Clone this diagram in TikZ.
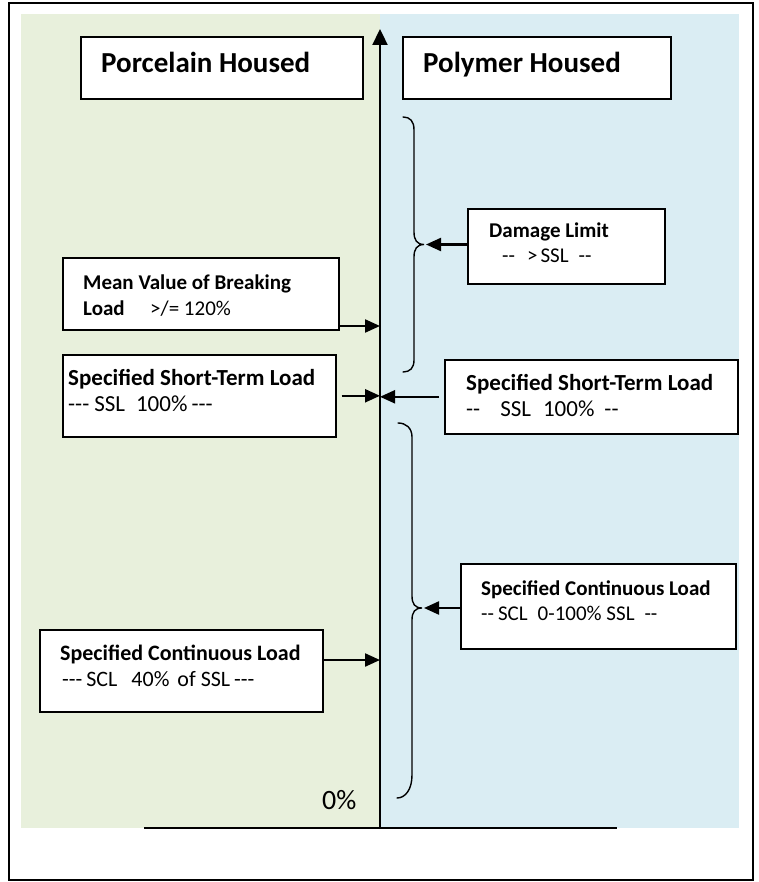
\documentclass[tikz,border=0pt]{standalone}
\usepackage{fontspec}
\newfontfamily\calib{Carlito}
\usetikzlibrary{arrows.meta,calc}
\definecolor{porcgreen}{RGB}{232,240,220}
\definecolor{polyblue}{RGB}{218,237,243}

\begin{document}
\begin{tikzpicture}[x=1pt,y=-1pt,
  box/.style={draw=black,line width=1.6pt,fill=white,inner sep=0pt,anchor=north west},
  titletext/.style={font=\calib\fontsize{29}{34}\selectfont\bfseries,anchor=base west,inner sep=0pt},
  boldtext/.style={font=\calib\fontsize{21}{26}\selectfont\bfseries,anchor=base west,inner sep=0pt},
  plaintext/.style={font=\calib\fontsize{21}{26}\selectfont,anchor=base west,inner sep=0pt},
  midbold/.style={font=\calib\fontsize{22}{27}\selectfont\bfseries,anchor=base west,inner sep=0pt},
  midplain/.style={font=\calib\fontsize{22}{27}\selectfont,anchor=base west,inner sep=0pt},
  bigbold/.style={font=\calib\fontsize{23}{28}\selectfont\bfseries,anchor=base west,inner sep=0pt},
  bigplain/.style={font=\calib\fontsize{23}{28}\selectfont,anchor=base west,inner sep=0pt},
  arr/.style={line width=2.2pt,-{Triangle[length=15pt,width=13pt]}},
  brace/.style={line width=1.4pt,line cap=round}]
\useasboundingbox (0,0) rectangle (759,882);

% background panels and outer frame
\fill[porcgreen] (21,14) rectangle (380,828);
\fill[polyblue] (380,14) rectangle (739,828);
\draw[line width=1.6pt] (9,3) rectangle (753,880);

% load axis and zero line
\coordinate (axB) at (380,829);
\coordinate (axT) at (380,29);
\coordinate (baseL) at (144,828);
\coordinate (baseR) at (617,828);
\draw[line width=2.3pt] (baseL) -- (baseR);
\draw[line width=2.3pt,-{Triangle[length=16pt,width=15pt]}] (axB) -- (axT);
\node[font=\calib\fontsize{28}{32}\selectfont,anchor=base west,inner sep=0pt] (zero) at (322,809) {0\%};

% column titles
\node[box,minimum width=282pt,minimum height=62pt] (porc) at (80,36) {};
\node[titletext] (porcT) at (101,73) {Porcelain Housed};
\node[box,minimum width=268pt,minimum height=62pt] (poly) at (402,36) {};
\node[titletext] (polyT) at (423,73) {Polymer Housed};

% porcelain side
\node[box,minimum width=276pt,minimum height=72pt] (mean) at (62,257) {};
\node[boldtext] (meanA) at (83,289) {Mean Value of Breaking};
\node[boldtext] (meanB) at (83,315) {Load};
\node[plaintext] (meanC) at (150,315) {>/= 120\%};

\node[box,minimum width=273pt,minimum height=82pt] (sstL) at (62,354) {};
\node[bigbold] (sstLA) at (68,385) {Specified Short-Term Load};
\node[bigplain] (sstLB) at (68,411) {---\hspace{5pt}SSL\hspace{11pt}100\%\hspace{4pt}---};

\node[box,minimum width=283pt,minimum height=82pt] (sclL) at (39,629) {};
\node[midbold] (sclLA) at (60,660) {Specified Continuous Load};
\node[midplain] (sclLB) at (62,686) {---\hspace{4pt}SCL\hspace{14pt}40\%\hspace{8pt}of SSL\hspace{4pt}---};

% polymer side
\node[box,minimum width=197pt,minimum height=75pt] (dmg) at (467,208) {};
\node[boldtext] (dmgA) at (489,238) {Damage Limit};
\node[plaintext] (dmgB) at (502,262) {--\hspace{12pt}>\hspace{3pt}SSL\hspace{10pt}--};

\node[box,minimum width=293pt,minimum height=74pt] (sstR) at (444,359) {};
\node[bigbold] (sstRA) at (466,390) {Specified Short-Term Load};
\node[bigplain] (sstRB) at (466,416) {--\hspace{20pt}SSL\hspace{12pt}100\%\hspace{10pt}--};

\node[box,minimum width=275pt,minimum height=85pt] (sclR) at (460,563) {};
\node[boldtext] (sclRA) at (481,595) {Specified Continuous Load};
\node[plaintext] (sclRB) at (481,620) {--\hspace{4pt}SCL\hspace{10pt}0-100\% SSL\hspace{10pt}--};

% braces grouping the polymer ranges
\coordinate (tipU) at (424,244.5);
\coordinate (tipL) at (422,608);
\draw[brace] (403,117) .. controls (410,117) and (414,121) .. (414,130)
  -- (414,232) .. controls (414,240) and (417,244.5) .. (tipU)
  .. controls (417,244.5) and (414,249) .. (414,257)
  -- (414,360) .. controls (414,368) and (410,372) .. (403,372);
\draw[brace] (398,423) .. controls (406,423) and (412,428) .. (412,437)
  -- (412,596) .. controls (412,604) and (415,608) .. (tipL)
  .. controls (415,608) and (412,612) .. (412,620)
  -- (412,775) .. controls (412,790) and (405,798) .. (397,798);

% arrows to the axis and to the braces
\coordinate (yMean) at (0,326);
\coordinate (ySclL) at (0,660);
\draw[arr] (mean.east |- yMean) -- (axB |- yMean);
\draw[arr] ([xshift=5pt]sstL.east) -- (axB |- sstL.east);
\draw[arr] ([xshift=-5pt]sstR.west) -- (axB |- sstR.west);
\draw[arr] (sclL.east |- ySclL) -- (axB |- ySclL);
\draw[arr] (dmg.west |- tipU) -- ([xshift=2pt]tipU);
\draw[arr] (sclR.west |- tipL) -- ([xshift=2pt]tipL);
\end{tikzpicture}
\end{document}
